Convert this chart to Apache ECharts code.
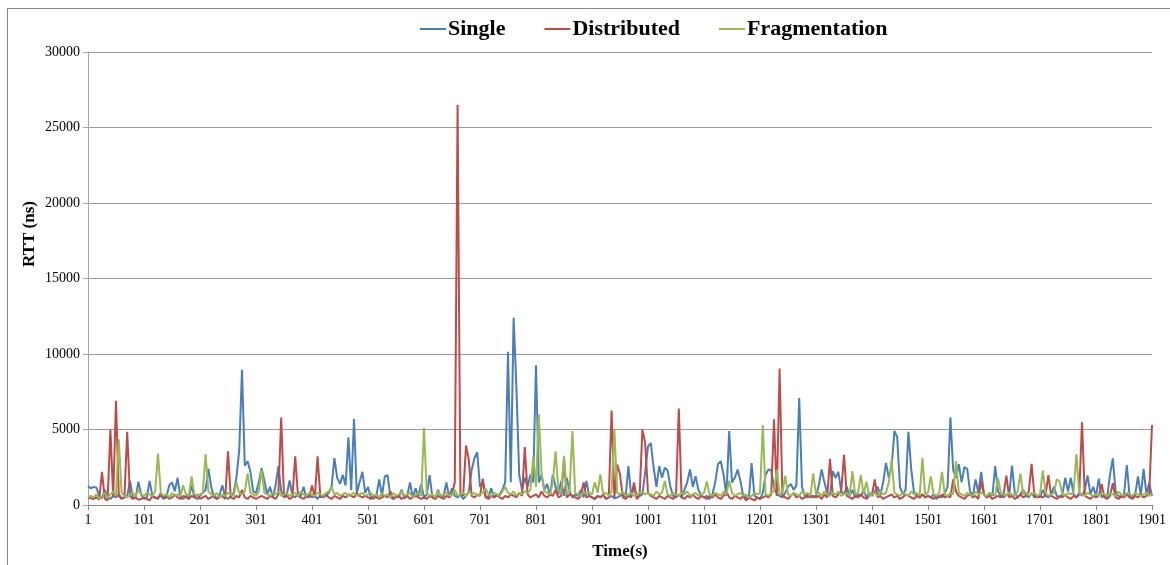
<!DOCTYPE html>
<html>
<head>
<meta charset="utf-8">
<script src="https://cdn.jsdelivr.net/npm/echarts@6/dist/echarts.min.js"></script>
<style>
  html, body { margin: 0; padding: 0; background: #fff; }
  #chart { width: 1170px; height: 565px; }
</style>
</head>
<body>
<div id="chart"></div>
<script>
// Sample times in seconds: 1, 6, 11, ... 1901
const seconds = Array.from({ length: 381 }, (_, i) => 1 + 5 * i);

// RTT (ns) per sample, one line of 20 samples per 100 s
const single = [
  1250,1100,1200,1150,600,450,1000,500,400,600,500,700,450,500,600,1600,500,450,1550,700,
  400,500,1600,600,450,500,600,400,500,1300,1500,900,1800,500,400,600,500,1300,500,400,
  600,800,1000,2400,1200,500,400,700,1300,500,400,600,800,1800,3600,8950,2600,2900,2200,900,
  800,1500,2460,1600,700,1200,500,1300,2570,900,500,700,1630,600,500,800,600,1200,500,700,
  500,600,400,700,500,600,800,1200,3100,1800,1400,2000,1300,4490,1000,5690,800,1500,2200,800,
  1200,500,400,600,1700,600,1900,1980,500,400,600,500,1000,450,600,1500,500,1100,600,1400,
  500,700,1980,500,400,1000,500,600,1500,500,1100,600,500,700,400,600,900,2300,3100,3490,
  1200,1500,600,500,1100,500,600,700,1000,1500,10150,1500,12400,7800,2000,1000,1800,1200,2000,1500,
  9260,1500,2000,1000,1400,600,2000,1200,700,1600,600,1800,900,500,700,600,1000,500,1590,600,
  500,400,600,500,700,400,500,600,450,500,600,700,500,2570,600,1200,500,600,700,2200,
  3880,4100,2500,1200,2570,1800,2460,2300,1200,600,500,700,500,1000,1500,2350,1200,1900,1000,600,
  500,600,400,700,1500,2720,2900,2000,600,4900,1500,1800,2350,1600,600,500,400,2770,600,500,
  400,800,2000,2350,2300,1200,700,600,500,800,1200,1400,1000,1300,7080,1200,600,500,700,500,
  600,1300,2350,1500,800,600,2250,1800,2200,900,700,1200,600,1000,500,700,600,1000,500,800,
  600,900,1200,700,1500,2790,1800,2500,4900,4500,1200,700,1000,4850,2400,800,600,500,700,500,
  600,500,700,400,600,500,800,1200,5800,2300,1800,2700,1500,2500,2400,900,600,1700,800,2200,
  700,500,800,600,2570,900,600,500,700,600,2610,800,500,700,1000,600,500,800,500,600,
  500,1000,600,500,700,1200,600,500,700,1800,900,1800,700,500,800,600,1000,1950,700,1200,
  600,1750,500,700,500,2000,3090,900,600,500,700,2650,600,500,700,1900,600,2400,700,1450,
  600
];

const distributed = [
  500,450,400,500,350,2200,400,300,5000,500,6900,600,400,500,4850,600,400,500,350,400,
  500,400,300,600,500,400,800,500,600,400,500,700,500,400,600,500,400,600,500,700,
  400,500,600,400,500,700,400,500,600,400,3550,500,400,600,500,1000,500,400,600,500,
  400,500,600,500,400,600,500,400,700,5800,500,600,400,500,3220,600,500,400,600,500,
  1300,500,3220,500,600,700,500,400,600,500,400,600,500,700,600,500,800,600,500,600,
  500,400,600,500,400,500,600,500,900,400,500,600,400,500,600,400,500,600,500,400,
  500,400,600,500,400,600,500,400,600,500,700,1500,26500,800,600,3940,3000,600,500,700,
  600,1740,500,400,600,500,700,500,400,600,500,700,600,500,800,600,3840,700,500,600,
  700,500,900,600,500,700,600,1000,500,600,3000,500,700,600,500,400,600,1500,500,600,
  500,400,600,500,700,400,500,6250,500,2680,2030,500,400,600,500,1500,400,600,5010,4100,
  800,600,500,400,600,500,400,600,500,400,600,6390,500,400,600,500,700,500,400,600,
  500,400,600,500,700,500,400,600,900,500,400,600,500,400,600,300,500,400,300,500,
  400,500,600,500,700,5670,600,9040,600,500,400,600,800,500,600,400,500,700,500,600,
  500,600,400,700,500,3050,600,500,700,900,3330,600,500,400,600,500,700,500,400,600,
  700,1700,500,600,400,500,600,700,500,600,400,500,700,600,500,400,600,500,700,500,
  600,500,400,600,500,700,500,600,500,1700,900,600,500,400,600,700,500,600,400,1600,
  700,500,600,400,500,600,500,700,1950,500,600,400,500,700,500,600,900,2720,600,500,
  600,500,700,1980,600,500,400,600,500,700,500,400,600,500,700,5470,600,500,400,600,
  500,600,1400,500,400,600,1450,500,400,600,500,700,500,400,600,500,700,500,600,700,
  5300
];

const fragmentation = [
  500,600,500,700,400,600,800,500,700,900,600,4350,800,600,500,700,800,600,1000,700,
  600,800,700,600,900,3400,800,600,700,500,800,600,700,600,1300,700,600,1900,700,600,
  700,800,3380,900,700,600,800,500,700,600,800,700,600,1500,800,700,900,2100,800,700,
  600,900,2350,800,700,600,800,700,900,600,700,800,600,700,800,600,900,700,600,800,
  700,600,800,700,600,800,900,1200,700,800,600,700,800,600,700,800,600,700,800,600,
  700,800,600,700,500,800,600,700,500,800,600,700,900,600,700,800,500,700,800,600,
  5120,800,600,700,500,900,600,700,800,600,700,1000,600,700,800,600,900,700,800,600,
  700,800,1100,700,600,800,700,600,900,1200,800,700,900,600,800,700,900,800,1000,3180,
  1200,6000,2000,900,800,700,1500,3550,900,800,3250,700,900,4900,800,700,600,900,700,800,
  700,1500,800,2030,700,800,600,900,4970,800,700,900,600,700,800,600,700,800,900,700,
  800,700,600,900,700,800,1600,700,600,800,700,600,800,700,900,600,700,800,600,700,
  800,1550,700,600,800,700,600,900,700,1600,800,600,700,800,600,700,500,600,800,700,
  800,5290,700,600,800,900,2350,700,800,1950,700,600,800,700,600,900,700,800,600,2100,
  700,800,600,900,700,600,800,700,900,600,700,800,600,2250,700,800,2000,700,1550,600,
  700,800,600,900,700,800,1500,3000,800,700,600,800,700,600,900,700,800,600,3100,700,
  800,1900,700,600,800,2200,700,600,800,700,2900,800,700,600,800,700,600,900,700,800,
  700,600,800,700,600,1800,800,700,600,800,700,600,900,2070,700,800,600,700,800,600,
  700,2300,800,600,700,800,1700,1550,700,600,800,700,900,3380,800,700,600,800,700,600,
  700,600,800,700,600,800,700,600,900,700,600,800,700,600,800,700,600,700,800,600,
  700
];

const seriesNames = ['Single', 'Distributed', 'Fragmentation'];
const seriesColors = ['#4a7ebb', '#be4b48', '#98b954'];
const serifFont = '"Liberation Serif", "DejaVu Serif", serif';

const chart = echarts.init(document.getElementById('chart'), null, { renderer: 'canvas' });

const lineSeries = [single, distributed, fragmentation].map((values, i) => ({
  name: seriesNames[i],
  type: 'line',
  data: values,
  showSymbol: false,
  symbol: 'none',
  lineStyle: { width: 2, color: seriesColors[i] },
  itemStyle: { color: seriesColors[i] },
  emphasis: { disabled: true }
}));

chart.setOption({
  animation: false,
  backgroundColor: '#ffffff',
  color: seriesColors,
  graphic: [
    {
      type: 'rect',
      shape: { x: 7.5, y: 8.5, width: 1200, height: 600 },
      style: { fill: 'none', stroke: '#868686', lineWidth: 1 },
      silent: true,
      z: -1
    },
    {
      type: 'text',
      x: 30,
      y: 234,
      rotation: Math.PI / 2,
      style: {
        text: 'RTT (ns)',
        font: 'bold 17px ' + serifFont,
        fill: '#000',
        align: 'center',
        verticalAlign: 'middle'
      }
    }
  ],
  legend: {
    data: seriesNames,
    left: 415,
    top: 13,
    icon: 'rect',
    itemWidth: 26,
    itemHeight: 2,
    itemGap: 39,
    textStyle: {
      fontFamily: serifFont,
      fontWeight: 'bold',
      fontSize: 22,
      color: '#000',
      padding: [0, 0, 0, -3]
    }
  },
  grid: { left: 88, right: 18, top: 52, bottom: 54, containLabel: false },
  xAxis: {
    type: 'category',
    data: seconds,
    boundaryGap: false,
    name: 'Time(s)',
    nameLocation: 'middle',
    nameGap: 38,
    nameTextStyle: { fontFamily: serifFont, fontWeight: 'bold', fontSize: 17, color: '#000' },
    axisLine: { lineStyle: { color: '#868686', width: 1 } },
    axisTick: { interval: 19, length: 5, inside: false, lineStyle: { color: '#868686' } },
    axisLabel: { interval: 19, fontFamily: serifFont, fontSize: 14, color: '#000', margin: 8 },
    splitLine: { show: false }
  },
  yAxis: {
    type: 'value',
    min: 0,
    max: 30000,
    interval: 5000,
    axisLine: { show: true, lineStyle: { color: '#a6a6a6', width: 1 } },
    axisTick: { show: true, length: 5, lineStyle: { color: '#a6a6a6' } },
    axisLabel: {
      fontFamily: serifFont,
      fontSize: 14,
      color: '#000',
      margin: 8,
      formatter: (v) => String(v)
    },
    splitLine: { show: true, lineStyle: { color: '#9a9a9a', width: 1 } }
  },
  series: lineSeries
});
</script>
</body>
</html>
